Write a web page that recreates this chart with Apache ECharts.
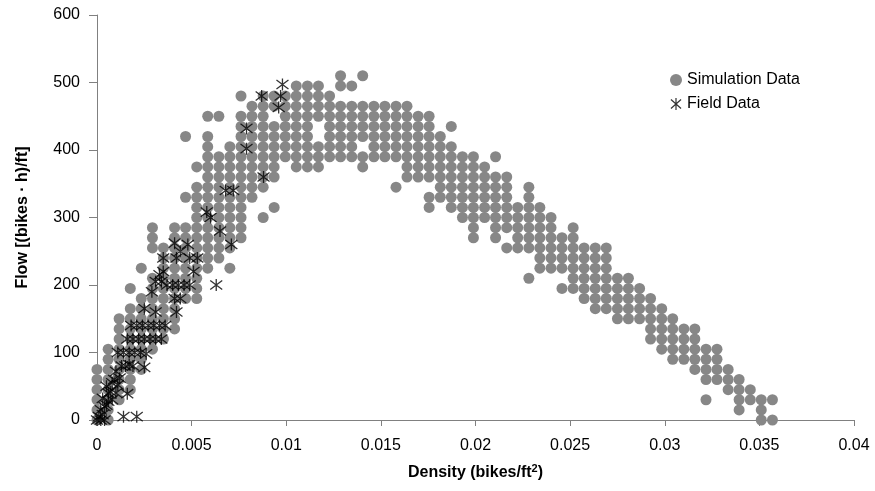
<!DOCTYPE html>
<html>
<head>
<meta charset="utf-8">
<script src="https://cdn.jsdelivr.net/npm/echarts@6/dist/echarts.min.js"></script>
<style>
html,body{margin:0;padding:0;background:#fff;}
#main{width:875px;height:491px;}
</style>
</head>
<body>
<div id="main"></div>
<script>
// simulation grid, read column by column: [density, [[flowFrom, flowTo], ...]] (flow step 15)
var simColumns = [
    [0.00000, [[0, 75]]],
    [0.00059, [[0, 105]]],
    [0.00117, [[30, 150]]],
    [0.00176, [[45, 165], [195, 195]]],
    [0.00234, [[75, 180], [225, 225]]],
    [0.00293, [[105, 210], [255, 285]]],
    [0.00351, [[120, 255]]],
    [0.00410, [[135, 285]]],
    [0.00468, [[180, 285], [330, 330], [420, 420]]],
    [0.00527, [[180, 345], [375, 375]]],
    [0.00585, [[225, 420], [450, 450]]],
    [0.00644, [[240, 390], [450, 450]]],
    [0.00702, [[225, 225], [255, 405]]],
    [0.00761, [[270, 450], [480, 480]]],
    [0.00819, [[330, 465]]],
    [0.00878, [[300, 300], [345, 480]]],
    [0.00936, [[315, 315], [360, 435], [465, 480]]],
    [0.00995, [[390, 480]]],
    [0.01053, [[375, 495]]],
    [0.01112, [[375, 495]]],
    [0.01170, [[375, 405], [450, 495]]],
    [0.01229, [[390, 480]]],
    [0.01287, [[390, 465], [495, 510]]],
    [0.01346, [[390, 465], [495, 495]]],
    [0.01404, [[375, 390], [420, 465], [510, 510]]],
    [0.01463, [[390, 465]]],
    [0.01521, [[390, 465]]],
    [0.01580, [[345, 345], [390, 465]]],
    [0.01638, [[360, 465]]],
    [0.01697, [[360, 450]]],
    [0.01755, [[315, 330], [360, 450]]],
    [0.01814, [[330, 420]]],
    [0.01872, [[315, 405], [435, 435]]],
    [0.01931, [[300, 390]]],
    [0.01989, [[270, 390]]],
    [0.02048, [[300, 375]]],
    [0.02106, [[270, 360], [390, 390]]],
    [0.02165, [[255, 255], [285, 360]]],
    [0.02223, [[255, 315]]],
    [0.02282, [[210, 210], [255, 345]]],
    [0.02340, [[225, 315]]],
    [0.02399, [[225, 300]]],
    [0.02457, [[195, 195], [225, 270]]],
    [0.02516, [[195, 285]]],
    [0.02574, [[180, 255]]],
    [0.02633, [[165, 255]]],
    [0.02691, [[165, 255]]],
    [0.02750, [[150, 210]]],
    [0.02808, [[150, 210]]],
    [0.02867, [[150, 195]]],
    [0.02925, [[120, 180]]],
    [0.02984, [[105, 165]]],
    [0.03042, [[90, 150]]],
    [0.03101, [[90, 135]]],
    [0.03159, [[75, 135]]],
    [0.03218, [[30, 30], [60, 105]]],
    [0.03276, [[60, 90], [105, 105]]],
    [0.03335, [[45, 75]]],
    [0.03393, [[15, 60]]],
    [0.03452, [[30, 45]]],
    [0.03510, [[0, 30]]],
    [0.03569, [[0, 0], [30, 30]]]
];

var fieldData = [
    [0.0000, 0], [0.0002, 0], [0.0004, 0], [0.0001, 5], [0.0003, 8], [0.0002, 15],
    [0.0004, 20], [0.0005, 22], [0.0006, 28], [0.0003, 32], [0.0008, 30], [0.0006, 40],
    [0.0007, 42], [0.0010, 40], [0.0005, 50], [0.0008, 55], [0.0011, 52], [0.0009, 60],
    [0.0012, 62], [0.0010, 72], [0.0014, 5], [0.0021, 5], [0.0016, 39], [0.0013, 80],
    [0.0015, 80], [0.0017, 82], [0.0019, 80], [0.0025, 78], [0.0011, 100], [0.0014, 100],
    [0.0017, 100], [0.0020, 100], [0.0023, 100], [0.0026, 98], [0.0016, 120], [0.0019, 120],
    [0.0022, 120], [0.0025, 120], [0.0028, 120], [0.0031, 120], [0.0034, 120], [0.0018, 140],
    [0.0021, 140], [0.0024, 140], [0.0027, 140], [0.0030, 140], [0.0033, 140], [0.0036, 140],
    [0.0025, 165], [0.0031, 160], [0.0042, 160], [0.0041, 180], [0.0044, 180], [0.0029, 190],
    [0.0031, 205], [0.0034, 205], [0.0037, 200], [0.0040, 200], [0.0043, 200], [0.0046, 200],
    [0.0049, 200], [0.0063, 200], [0.0033, 215], [0.0035, 220], [0.0051, 220], [0.0035, 240],
    [0.0042, 240], [0.0049, 240], [0.0053, 240], [0.0044, 250], [0.0041, 262], [0.0048, 260],
    [0.0058, 308], [0.0060, 300], [0.0065, 280], [0.0071, 260], [0.0068, 340], [0.0072, 340],
    [0.0088, 360], [0.0079, 402], [0.0079, 432], [0.0087, 480], [0.0097, 480], [0.0096, 463],
    [0.0098, 497]
];

var xTicks = { min: 0, max: 0.04, interval: 0.005 };
var yTicks = { min: 0, max: 600, interval: 100 };

var simData = [];
simColumns.forEach(function (col) {
    col[1].forEach(function (r) {
        for (var f = r[0]; f <= r[1]; f += 15) simData.push([col[0], f]);
    });
});

var star = 'path://M5,0 L5,10 M0.8,1.2 L9.2,8.8 M0.8,8.8 L9.2,1.2';
var axisGray = '#808080';

var chart = echarts.init(document.getElementById('main'));
var option = {
    backgroundColor: '#fff',
    animation: false,
    textStyle: { fontFamily: 'Liberation Sans, Arial, sans-serif' },
    grid: { left: 97, right: 21, top: 15, bottom: 71 },
    legend: {
        orient: 'vertical',
        left: 665,
        top: 67,
        itemGap: 8,
        itemWidth: 12,
        itemHeight: 12,
        textStyle: { fontSize: 16, color: '#000' },
        data: [
            { name: 'Simulation Data', icon: 'circle' },
            { name: 'Field Data', icon: star, itemStyle: { color: '#000', borderColor: '#000', borderWidth: 1.2 } }
        ]
    },
    xAxis: {
        type: 'value',
        min: xTicks.min, max: xTicks.max, interval: xTicks.interval,
        name: 'Density (bikes/ft{sup|2})',
        nameLocation: 'middle',
        nameGap: 43,
        nameTextStyle: {
            fontSize: 16, fontWeight: 'bold', color: '#000',
            rich: { sup: { fontSize: 11, fontWeight: 'bold', verticalAlign: 'top', padding: [0, 0, 8, 0] } }
        },
        splitLine: { show: false },
        axisLine: { lineStyle: { color: axisGray } },
        axisTick: { length: 6, lineStyle: { color: axisGray } },
        axisLabel: {
            fontSize: 16, color: '#000', margin: 18,
            formatter: function (v) { return String(+v.toFixed(3)); }
        }
    },
    yAxis: {
        type: 'value',
        min: yTicks.min, max: yTicks.max, interval: yTicks.interval,
        name: 'Flow [(bikes · h)/ft]',
        nameLocation: 'middle',
        nameGap: 66,
        nameTextStyle: { fontSize: 16, fontWeight: 'bold', color: '#000' },
        splitLine: { show: false },
        axisLine: { show: true, lineStyle: { color: axisGray } },
        axisTick: { show: true, length: 8, lineStyle: { color: axisGray } },
        axisLabel: { fontSize: 16, color: '#000', margin: 17 }
    },
    series: [
        {
            name: 'Simulation Data',
            type: 'scatter',
            symbol: 'circle',
            symbolSize: 11,
            itemStyle: { color: '#878787', opacity: 1 },
            data: simData
        },
        {
            name: 'Field Data',
            type: 'scatter',
            symbol: star,
            symbolSize: 12,
            itemStyle: { color: '#000', borderColor: '#000', borderWidth: 1.3 },
            data: fieldData
        }
    ]
};
chart.setOption(option);
</script>
</body>
</html>
